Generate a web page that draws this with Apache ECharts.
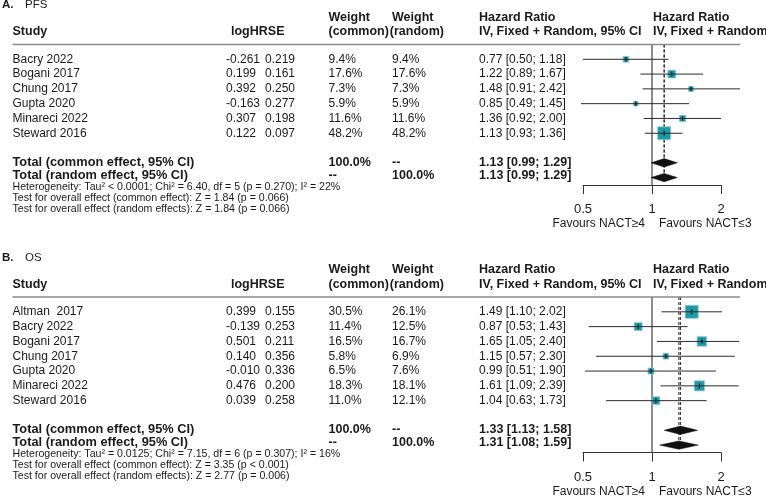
<!DOCTYPE html>
<html>
<head>
<meta charset="utf-8">
<title>Forest plot - PFS / OS</title>
<script src="https://cdn.jsdelivr.net/npm/echarts@6.0.0/dist/echarts.min.js"></script>
<style>
    html, body { margin: 0; padding: 0; background: #fff; }
    #chart { width: 766px; height: 497px; }
</style>
</head>
<body>
<div id="chart"></div>
<script>
// ---- A. PFS ----
var pfsStudy   = ['Bacry 2022', 'Bogani 2017', 'Chung 2017', 'Gupta 2020', 'Minareci 2022', 'Steward 2016'];
var pfsLogHR   = [-0.261, 0.199, 0.392, -0.163, 0.307, 0.122];
var pfsSE      = [0.219, 0.161, 0.250, 0.277, 0.198, 0.097];
var pfsWCommon = [9.4, 17.6, 7.3, 5.9, 11.6, 48.2];
var pfsWRandom = [9.4, 17.6, 7.3, 5.9, 11.6, 48.2];
var pfsHR      = [0.77, 1.22, 1.48, 0.85, 1.36, 1.13];
var pfsLower   = [0.50, 0.89, 0.91, 0.49, 0.92, 0.93];
var pfsUpper   = [1.18, 1.67, 2.42, 1.45, 2.00, 1.36];
var pfsCommon  = [1.13, 0.99, 1.29];   // hr, lower, upper
var pfsRandom  = [1.13, 0.99, 1.29];
var pfsNotes   = [
    'Heterogeneity: Tau\u00b2 < 0.0001; Chi\u00b2 = 6.40, df = 5 (p = 0.270); I\u00b2 = 22%',
    'Test for overall effect (common effect): Z = 1.84 (p = 0.066)',
    'Test for overall effect (random effects): Z = 1.84 (p = 0.066)'
];

// ---- B. OS ----
var osStudy   = ['Altman  2017', 'Bacry 2022', 'Bogani 2017', 'Chung 2017', 'Gupta 2020', 'Minareci 2022', 'Steward 2016'];
var osLogHR   = [0.399, -0.139, 0.501, 0.140, -0.010, 0.476, 0.039];
var osSE      = [0.155, 0.253, 0.211, 0.356, 0.336, 0.200, 0.258];
var osWCommon = [30.5, 11.4, 16.5, 5.8, 6.5, 18.3, 11.0];
var osWRandom = [26.1, 12.5, 16.7, 6.9, 7.6, 18.1, 12.1];
var osHR      = [1.49, 0.87, 1.65, 1.15, 0.99, 1.61, 1.04];
var osLower   = [1.10, 0.53, 1.05, 0.57, 0.51, 1.09, 0.63];
var osUpper   = [2.02, 1.43, 2.40, 2.30, 1.90, 2.39, 1.73];
var osCommon  = [1.33, 1.13, 1.58];
var osRandom  = [1.31, 1.08, 1.59];
var osNotes   = [
    'Heterogeneity: Tau\u00b2 = 0.0125; Chi\u00b2 = 7.15, df = 6 (p = 0.307); I\u00b2 = 16%',
    'Test for overall effect (common effect): Z = 3.35 (p < 0.001)',
    'Test for overall effect (random effects): Z = 2.77 (p = 0.006)'
];

// axis ticks (log base 2) and labels under the axis
var xTicks = [0.5, 1, 2];
var favours = ['Favours NACT\u22654', 'Favours NACT\u22643'];

var panels = [
    {tag: 'A.', name: 'PFS', study: pfsStudy, logHR: pfsLogHR, se: pfsSE, wCommon: pfsWCommon, wRandom: pfsWRandom,
     hr: pfsHR, lower: pfsLower, upper: pfsUpper, common: pfsCommon, random: pfsRandom, notes: pfsNotes,
     top: 44.5, height: 140.5},
    {tag: 'B.', name: 'OS', study: osStudy, logHR: osLogHR, se: osSE, wCommon: osWCommon, wRandom: osWRandom,
     hr: osHR, lower: osLower, upper: osUpper, common: osCommon, random: osRandom, notes: osNotes,
     top: 297, height: 155.5}
];

var FONT = '"Liberation Sans", Arial, Helvetica, sans-serif';
var INK = '#1a1a1a';
var col = {tag: 2, name: 25, study: 12.5, logHR: 226, se: 265, wCommon: 328.5, wRandom: 392, randomHead: 444, hr: 479, plot: 653};

var fmtCI = function(a){
    return a[0].toFixed(2) + ' [' + a[1].toFixed(2) + '; ' + a[2].toFixed(2) + ']';
};

var cell = function(x, text, size, bold, align){
    return {x: x, text: text, size: size || 12, bold: !!bold, align: align || 'left'};
};

// text lines of one panel (row positions in y-axis units)
var tableLines = function(p){
    var k = p.study.length, lines = [];
    var ymax = k + 3.5;
    lines.push({row: -2.66, cells: [cell(col.tag, p.tag, 11.5, true), cell(col.name, p.name, 11.5)]});
    lines.push({row: -1.82, cells: [
        cell(col.wCommon, 'Weight', 12.5, true), cell(col.wRandom, 'Weight', 12.5, true),
        cell(col.hr, 'Hazard Ratio', 12.5, true), cell(col.plot, 'Hazard Ratio', 12.5, true)
    ]});
    lines.push({row: -0.87, cells: [
        cell(col.study, 'Study', 12.5, true), cell(231, 'logHRSE', 12.5, true),
        cell(col.wCommon, '(common)', 12.5, true), cell(col.randomHead, '(random)', 12.5, true, 'right'),
        cell(col.hr, 'IV, Fixed + Random, 95% CI', 12.5, true), cell(col.plot, 'IV, Fixed + Random', 12.5, true)
    ]});
    lines.push({row: 0, rule: true, cells: []});
    for (var i = 0; i < k; i++) {
        lines.push({row: i + 1, cells: [
            cell(col.study, p.study[i]),
            cell(col.logHR, p.logHR[i].toFixed(3)),
            cell(col.se, p.se[i].toFixed(3)),
            cell(col.wCommon, p.wCommon[i].toFixed(1) + '%'),
            cell(col.wRandom, p.wRandom[i].toFixed(1) + '%'),
            cell(col.hr, fmtCI([p.hr[i], p.lower[i], p.upper[i]]))
        ]});
    }
    lines.push({row: k + 1.95, cells: [
        cell(col.study, 'Total (common effect, 95% CI)', 12.8, true),
        cell(col.wCommon, '100.0%', 12.5, true), cell(col.wRandom, '--', 12.5, true),
        cell(col.hr, fmtCI(p.common), 12.5, true)
    ]});
    lines.push({row: k + 2.85, cells: [
        cell(col.study, 'Total (random effect, 95% CI)', 12.8, true),
        cell(col.wCommon, '--', 12.5, true), cell(col.wRandom, '100.0%', 12.5, true),
        cell(col.hr, fmtCI(p.random), 12.5, true)
    ]});
    var noteRows = [k + 3.62, k + 4.37, k + 5.12];
    p.notes.forEach(function(t, j){
        lines.push({row: noteRows[j], cells: [cell(col.study, t, 10.6)]});
    });
    lines.push({row: ymax + 2.63, cells: [cell(645, favours[0], 12, false, 'right'), cell(659, favours[1], 12)]});
    return lines;
};

// 表格文字
var textRender = function(lines){
    return function(params, api){
        var line = lines[api.value(2)];
        var y = api.coord([1, api.value(1)])[1];
        if (line.rule) {
            return {type: 'line', shape: {x1: 12.5, y1: y, x2: 740, y2: y}, style: {stroke: '#8a8a8a', lineWidth: 1.5}};
        }
        return {
            type: 'group',
            children: line.cells.map(function(c){
                return {type: 'text', style: {
                    text: c.text, x: c.x, y: y, align: c.align, verticalAlign: 'middle',
                    fontSize: c.size, fontWeight: c.bold ? 'bold' : 'normal', fontFamily: FONT, fill: INK
                }};
            })
        };
    };
};

// 单个研究：置信区间 + 方块
var ciRender = function(maxW){
    return function(params, api){
        var row = api.value(1);
        var c = api.coord([api.value(0), row]);
        var lo = api.coord([api.value(2), row]);
        var up = api.coord([api.value(3), row]);
        var side = 13 * Math.sqrt(api.value(4) / maxW);
        return {type: 'group', children: [
            {type: 'rect', shape: {x: c[0] - side / 2, y: c[1] - side / 2, width: side, height: side},
             style: {fill: '#1f98a8', stroke: '#8fcdd5', lineWidth: 0.8}},
            {type: 'line', shape: {x1: lo[0], y1: c[1], x2: up[0], y2: c[1]}, style: {stroke: '#2b2b2b', lineWidth: 1}},
            {type: 'line', shape: {x1: c[0], y1: c[1] - 2.5, x2: c[0], y2: c[1] + 2.5}, style: {stroke: '#111', lineWidth: 1}}
        ]};
    };
};

// 合并效应菱形
var diamondRender = function(params, api){
    var row = api.value(1);
    var c = api.coord([api.value(0), row]);
    var lo = api.coord([api.value(2), row]);
    var up = api.coord([api.value(3), row]);
    var h = 4.2;
    return {type: 'polygon', shape: {points: [[lo[0], c[1]], [c[0], c[1] - h], [up[0], c[1]], [c[0], c[1] + h]]},
            style: {fill: '#111', stroke: '#111', lineWidth: 0.5}};
};

// 参考线：无效线 + 合并估计虚线
var refRender = function(params, api){
    var a = api.coord([api.value(0), api.value(1)]);
    var b = api.coord([api.value(0), api.value(2)]);
    var dashed = api.value(3) === 1;
    return {type: 'line', shape: {x1: a[0], y1: a[1], x2: b[0], y2: b[1]},
            style: {stroke: dashed ? '#222' : '#666', lineWidth: dashed ? 1 : 1.5, lineDash: dashed ? [3, 2] : null}};
};

var grids = [], xAxes = [], yAxes = [], series = [];

panels.forEach(function(p, gi){
    var k = p.study.length;
    var ymax = k + 3.5;
    var lines = tableLines(p);

    grids.push({left: 583, right: 45, top: p.top, height: p.height, containLabel: false});
    xAxes.push({
        type: 'log', logBase: 2, min: xTicks[0], max: xTicks[xTicks.length - 1], gridIndex: gi, position: 'bottom',
        axisLine: {onZero: false, lineStyle: {color: '#333', width: 1}},
        axisTick: {length: 9, lineStyle: {color: '#333'}},
        axisLabel: {margin: 18, fontSize: 13, color: INK, fontFamily: FONT,
                    formatter: function(v){ return String(+v.toPrecision(3)); }},
        splitLine: {show: false}
    });
    yAxes.push({type: 'value', inverse: true, min: 0, max: ymax, gridIndex: gi, show: false});

    series.push({
        type: 'custom', xAxisIndex: gi, yAxisIndex: gi, clip: false, silent: true, z: 1,
        renderItem: refRender,
        data: [[1, 0, ymax, 0], [p.common[0], 0, k + 3, 1], [p.random[0], 0, k + 3, 1]]
    });
    series.push({
        type: 'custom', xAxisIndex: gi, yAxisIndex: gi, clip: false, silent: true, z: 3,
        renderItem: ciRender(Math.max.apply(null, p.wCommon)),
        data: p.hr.map(function(v, i){ return [v, i + 1, p.lower[i], p.upper[i], p.wCommon[i]]; })
    });
    series.push({
        type: 'custom', xAxisIndex: gi, yAxisIndex: gi, clip: false, silent: true, z: 3,
        renderItem: diamondRender,
        data: [[p.common[0], k + 2, p.common[1], p.common[2]], [p.random[0], k + 3, p.random[1], p.random[2]]]
    });
    series.push({
        type: 'custom', xAxisIndex: gi, yAxisIndex: gi, clip: false, silent: true, z: 2,
        renderItem: textRender(lines),
        data: lines.map(function(l, i){ return [1, l.row, i]; })
    });
});

var chart = echarts.init(document.getElementById('chart'), null, {renderer: 'canvas'});
chart.setOption({
    animation: false,
    backgroundColor: '#fff',
    textStyle: {fontFamily: FONT},
    grid: grids,
    xAxis: xAxes,
    yAxis: yAxes,
    series: series
});
</script>
</body>
</html>
